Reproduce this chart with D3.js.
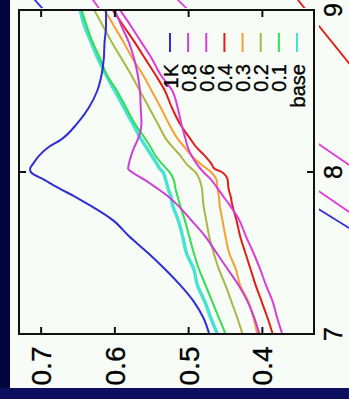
<!DOCTYPE html>
<html>
<head>
<meta charset="utf-8">
<script src="https://cdn.jsdelivr.net/npm/d3@7"></script>
<style>
  html, body { margin: 0; padding: 0; background: #f8fcf6; }
  svg { display: block; }
  text { font-family: "Liberation Sans", Arial, Helvetica, sans-serif; fill: #000; stroke: #000; stroke-width: 0.35; }
</style>
</head>
<body>
<svg id="chart" width="349" height="399"></svg>
<script>
// Sample positions along the horizontal axis (drawn vertically here)
const tGrid = [7.0, 7.1, 7.2, 7.3, 7.4, 7.5, 7.6, 7.7, 7.8, 7.85, 7.9, 7.95, 8.0, 8.02, 8.05, 8.1, 8.15, 8.2, 8.3, 8.4, 8.5, 8.6, 8.7, 8.8, 8.9, 9.0];

const series1K   = [.472, .480, .493, .511, .532, .555, .580, .602, .636, .655, .676, .695, .714, .715, .711, .703, .691, .673, .651, .635, .624, .618, .615, .614, .612, .612];
const series08   = [.404, .411, .420, .432, .447, .462, .477, .496, .516, .528, .543, .559, .577, .582, .581, .578, .574, .569, .564, .565, .566, .569, .574, .581, .591, .600];
const series06   = [.373, .380, .386, .395, .403, .412, .422, .431, .445, .453, .461, .469, .480, .484, .489, .496, .501, .504, .510, .515, .522, .538, .550, .564, .578, .593];
const series04   = [.386, .393, .401, .409, .416, .423, .430, .435, .441, .443, .446, .447, .455, .465, .469, .478, .489, .497, .512, .523, .532, .545, .559, .573, .588, .603];
const series03   = [.407, .412, .419, .430, .436, .445, .450, .454, .458, .459, .461, .462, .470, .475, .484, .496, .505, .514, .527, .538, .550, .562, .576, .588, .601, .614];
const series02   = [.427, .434, .442, .450, .459, .466, .472, .476, .480, .481, .482, .485, .491, .496, .503, .511, .521, .530, .542, .554, .566, .578, .591, .604, .616, .628];
const series01   = [.450, .459, .468, .477, .486, .493, .499, .505, .512, .515, .518, .520, .526, .530, .536, .545, .551, .558, .573, .585, .597, .611, .620, .630, .638, .645];
const seriesBase = [.461, .470, .478, .488, .493, .503, .508, .514, .522, .524, .528, .531, .535, .539, .543, .550, .557, .564, .576, .588, .600, .612, .623, .632, .641, .647];

const seriesNames  = ["1K", "0.8", "0.6", "0.4", "0.3", "0.2", "0.1", "base"];
const seriesColors = ["#2e2ed8", "#cc3fd6", "#dc3cdc", "#e31c1c", "#f5a033", "#a9b746", "#35dc55", "#45e3d2"];
const seriesValues = [series1K, series08, series06, series04, series03, series02, series01, seriesBase];

const valueTicks = [0.4, 0.5, 0.6, 0.7];
const valueTickLabels = ["0.4", "0.5", "0.6", "0.7"];
const tTicks = [7, 8, 9];
const tTickLabels = ["7", "8", "9"];

// Pieces of the neighbouring panels that show at the edges: [t, value] pairs
const neighbourTop = [
  { color: "#2e2ed8", pts: [[7.043, 0.712], [6.951, 0.694]] },
  { color: "#dc3cdc", pts: [[7.043, 0.6325], [6.951, 0.618]] },
  { color: "#dc3cdc", pts: [[7.043, 0.5185], [6.951, 0.498]] }
];
const neighbourRight = [
  { color: "#e31c1c", pts: [[9.093, 0.764], [8.568, 0.671]] },
  { color: "#dc3cdc", pts: [[8.184, 0.734], [8.018, 0.681]] },
  { color: "#dc3cdc", pts: [[7.894, 0.734], [7.728, 0.681]] },
  { color: "#2e2ed8", pts: [[7.781, 0.734], [7.631, 0.681]] }
];

const svg = d3.select("#chart");
const W = 349, H = 399;

// Page background and dark border strips
svg.append("rect").attr("x", 0).attr("y", 0).attr("width", W).attr("height", H).attr("fill", "#f8fcf6");
svg.append("rect").attr("x", 0).attr("y", 0).attr("width", 10).attr("height", H).attr("fill", "#03033d");
svg.append("rect").attr("x", 0).attr("y", 388).attr("width", W).attr("height", H - 388).attr("fill", "#0e0e5e");

const plot = { left: 19, right: 314, top: 10, bottom: 334 };

// value runs right-to-left, t runs bottom-to-top (rotated plot)
const xV = d3.scaleLinear().domain([0.73, 0.33]).range([plot.left, plot.right]);
const yT = d3.scaleLinear().domain([7, 9]).range([plot.bottom, plot.top]);

const defs = svg.append("defs");
defs.append("clipPath").attr("id", "plotClip")
  .append("rect").attr("x", plot.left).attr("y", plot.top)
  .attr("width", plot.right - plot.left).attr("height", plot.bottom - plot.top);
const nClip = defs.append("clipPath").attr("id", "neighbourClip");
nClip.append("rect").attr("x", 0).attr("y", 0).attr("width", W).attr("height", 8);
nClip.append("rect").attr("x", 319).attr("y", 0).attr("width", W - 319).attr("height", 380);

// Neighbouring panels use shifted copies of the main scales
const yTop = t => yT(t) - 330;
const xRight = v => xV(v) + 300;
const nGroup = svg.append("g").attr("clip-path", "url(#neighbourClip)");
neighbourTop.forEach(s => {
  nGroup.append("path")
    .attr("d", d3.line().x(d => xV(d[1])).y(d => yTop(d[0]))(s.pts))
    .attr("fill", "none").attr("stroke", s.color).attr("stroke-width", 1.8);
});
neighbourRight.forEach(s => {
  nGroup.append("path")
    .attr("d", d3.line().x(d => xRight(d[1])).y(d => yT(d[0]))(s.pts))
    .attr("fill", "none").attr("stroke", s.color).attr("stroke-width", 1.8);
});

// Curves
const lineGen = d3.line()
  .x(d => xV(d[1]))
  .y(d => yT(d[0]))
  .curve(d3.curveMonotoneY);

const curves = svg.append("g").attr("clip-path", "url(#plotClip)");
// draw from back to front: base first, 1K last
for (let i = seriesNames.length - 1; i >= 0; i--) {
  const pts = tGrid.map((t, j) => [t, seriesValues[i][j]]);
  curves.append("path")
    .attr("d", lineGen(pts))
    .attr("fill", "none")
    .attr("stroke", seriesColors[i])
    .attr("stroke-width", seriesNames[i] === "base" ? 3.4 : 2)
    .attr("stroke-linejoin", "round");
}

// Legend
const legendX = d3.scalePoint().domain(seriesNames).range([170, 297]);
const legend = svg.append("g");
seriesNames.forEach((name, i) => {
  const x = legendX(name);
  legend.append("line")
    .attr("x1", x).attr("x2", x).attr("y1", 33).attr("y2", 52)
    .attr("stroke", seriesColors[i]).attr("stroke-width", 2);
  legend.append("text")
    .attr("transform", `translate(${x + 7.5},64) rotate(-90)`)
    .attr("text-anchor", "end")
    .attr("font-size", 20)
    .text(name);
});

// Frame
svg.append("rect")
  .attr("x", plot.left).attr("y", plot.top)
  .attr("width", plot.right - plot.left).attr("height", plot.bottom - plot.top)
  .attr("fill", "none").attr("stroke", "#111").attr("stroke-width", 2);

// Inward ticks
const tickLen = 7;
const ticks = svg.append("g").attr("stroke", "#111").attr("stroke-width", 2);
valueTicks.forEach(v => {
  ticks.append("line").attr("x1", xV(v)).attr("x2", xV(v)).attr("y1", plot.bottom).attr("y2", plot.bottom - tickLen);
  ticks.append("line").attr("x1", xV(v)).attr("x2", xV(v)).attr("y1", plot.top).attr("y2", plot.top + tickLen);
});
tTicks.forEach(t => {
  ticks.append("line").attr("x1", plot.left).attr("x2", plot.left + tickLen).attr("y1", yT(t)).attr("y2", yT(t));
  ticks.append("line").attr("x1", plot.right).attr("x2", plot.right - tickLen).attr("y1", yT(t)).attr("y2", yT(t));
});

// Tick labels (rotated)
valueTicks.forEach((v, i) => {
  svg.append("text")
    .attr("transform", `translate(${xV(v) + 10},366) rotate(-90)`)
    .attr("text-anchor", "middle")
    .attr("font-size", 28)
    .text(valueTickLabels[i]);
});
tTicks.forEach((t, i) => {
  svg.append("text")
    .attr("transform", `translate(${342},${yT(t)}) rotate(-90)`)
    .attr("text-anchor", "middle")
    .attr("font-size", 25)
    .text(tTickLabels[i]);
});
</script>
</body>
</html>
